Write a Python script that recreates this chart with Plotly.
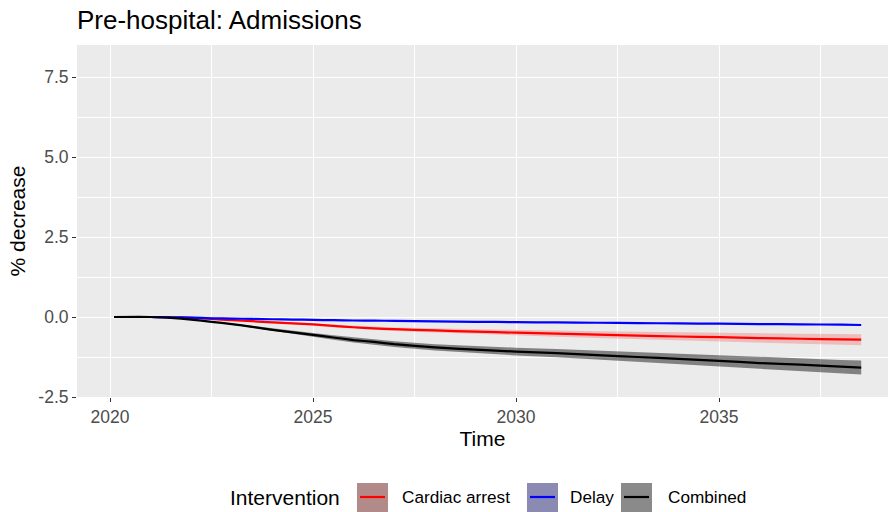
import plotly.graph_objects as go

# Projected % decrease in pre-hospital admissions by intervention
years = [2020.1, 2021, 2021.5, 2022, 2022.5, 2023, 2023.5, 2024, 2024.5, 2025,
         2025.5, 2026, 2026.5, 2027, 2028, 2029, 2030, 2031, 2032, 2033,
         2034, 2035, 2036, 2037, 2038, 2038.5]

cardiac = [0, 0, -0.01, -0.03, -0.06, -0.10, -0.13, -0.17, -0.20, -0.23,
           -0.28, -0.32, -0.355, -0.38, -0.42, -0.46, -0.49, -0.52, -0.55, -0.58,
           -0.61, -0.63, -0.66, -0.68, -0.70, -0.71]
cardiac_ci = [0, 0, 0, 0.005, 0.01, 0.015, 0.02, 0.025, 0.03, 0.035,
              0.04, 0.045, 0.05, 0.055, 0.065, 0.075, 0.085, 0.095, 0.105, 0.115,
              0.125, 0.135, 0.145, 0.155, 0.165, 0.17]

delay = [0, 0, -0.01, -0.02, -0.04, -0.05, -0.06, -0.07, -0.08, -0.09,
         -0.10, -0.11, -0.115, -0.12, -0.135, -0.15, -0.16, -0.17, -0.18, -0.19,
         -0.20, -0.21, -0.22, -0.23, -0.24, -0.25]
delay_ci = [0, 0, 0, 0, 0, 0.002, 0.002, 0.003, 0.003, 0.004,
            0.004, 0.005, 0.005, 0.005, 0.006, 0.006, 0.007, 0.007, 0.008, 0.008,
            0.009, 0.009, 0.01, 0.01, 0.011, 0.011]

combined = [0, 0, -0.03, -0.08, -0.15, -0.22, -0.31, -0.40, -0.48, -0.56,
            -0.64, -0.72, -0.78, -0.85, -0.95, -1.02, -1.08, -1.13, -1.19, -1.25,
            -1.31, -1.37, -1.44, -1.49, -1.55, -1.58]
combined_ci = [0, 0, 0, 0.005, 0.01, 0.02, 0.03, 0.04, 0.05, 0.06,
               0.07, 0.08, 0.085, 0.09, 0.10, 0.11, 0.12, 0.13, 0.14, 0.15,
               0.16, 0.17, 0.18, 0.19, 0.21, 0.22]

series_names = ["Cardiac arrest", "Delay", "Combined"]
series_vals = [cardiac, delay, combined]
series_ci = [cardiac_ci, delay_ci, combined_ci]
line_colors = ["#ff0000", "#0000ff", "#000000"]
band_colors = ["rgba(255,0,0,0.2)", "rgba(0,0,255,0.2)", "rgba(0,0,0,0.45)"]
key_fills = ["#b38a8a", "#8a8ab3", "#8a8a8a"]

y_ticks = [-2.5, 0.0, 2.5, 5.0, 7.5]
y_ticklabels = ["-2.5", "0.0", "2.5", "5.0", "7.5"]
x_ticks = [2020, 2025, 2030, 2035]
x_ticklabels = ["2020", "2025", "2030", "2035"]

FONT = "Liberation Sans, Arial, sans-serif"

fig = go.Figure()

# confidence ribbons
for vals, ci, bc in zip(series_vals, series_ci, band_colors):
    hi = [v + c for v, c in zip(vals, ci)]
    lo = [v - c for v, c in zip(vals, ci)]
    fig.add_trace(go.Scatter(x=years, y=hi, mode="lines", line=dict(width=0),
                             showlegend=False, hoverinfo="skip"))
    fig.add_trace(go.Scatter(x=years, y=lo, mode="lines", line=dict(width=0),
                             fill="tonexty", fillcolor=bc,
                             showlegend=False, hoverinfo="skip"))

# central estimates
for name, vals, lc in zip(series_names, series_vals, line_colors):
    fig.add_trace(go.Scatter(x=years, y=vals, mode="lines", name=name,
                             line=dict(color=lc, width=2.2, shape="spline", smoothing=0.5),
                             showlegend=False))

# panel geometry (px) used for the hand-built legend below
W, H = 890, 512
ML, MR, MT, MB = 77, 2, 45, 115
pw, ph = W - ML - MR, H - MT - MB


def px_x(x):
    return (x - ML) / pw


def px_y(y):
    return (H - MB - y) / ph


legend_y = 497
fig.add_annotation(x=px_x(228), y=px_y(legend_y), xref="paper", yref="paper",
                   text="Intervention", showarrow=False, xanchor="left",
                   yanchor="middle", font=dict(size=21, color="#000000", family=FONT))

key_left = [357, 527, 621]
label_left = [400, 568, 666]
for name, lc, kf, kx, lx in zip(series_names, line_colors, key_fills, key_left, label_left):
    fig.add_shape(type="rect", xref="paper", yref="paper",
                  x0=px_x(kx), x1=px_x(kx + 31), y0=px_y(483), y1=px_y(512),
                  fillcolor=kf, line=dict(width=0), layer="above")
    fig.add_shape(type="line", xref="paper", yref="paper",
                  x0=px_x(kx + 3), x1=px_x(kx + 28), y0=px_y(legend_y), y1=px_y(legend_y),
                  line=dict(color=lc, width=2.2), layer="above")
    fig.add_annotation(x=px_x(lx), y=px_y(legend_y), xref="paper", yref="paper",
                       text=name, showarrow=False, xanchor="left", yanchor="middle",
                       font=dict(size=17.2, color="#000000", family=FONT))

fig.update_layout(
    width=W, height=H,
    margin=dict(l=ML, r=MR, t=MT, b=MB, autoexpand=False),
    paper_bgcolor="white",
    plot_bgcolor="#ebebeb",
    font=dict(family=FONT),
    showlegend=False,
    title=dict(text="Pre-hospital: Admissions", x=ML / W,
               xref="container", xanchor="left", y=1 - 20 / H, yref="container",
               yanchor="middle", font=dict(size=26, color="#000000", family=FONT)),
)

fig.update_xaxes(
    range=[2019.187, 2039.16],
    tickvals=x_ticks, ticktext=x_ticklabels,
    ticks="outside", ticklen=4, tickwidth=1.1, tickcolor="#333333",
    tickfont=dict(size=17.5, color="#4d4d4d", family=FONT),
    showgrid=True, gridcolor="white", gridwidth=1.4,
    minor=dict(dtick=5, tick0=2022.5, showgrid=True, gridcolor="white",
               gridwidth=0.6, ticks=""),
    zeroline=False, showline=False,
    title=dict(text="Time", standoff=4,
               font=dict(size=21, color="#000000", family=FONT)),
)

fig.update_yaxes(
    range=[-2.5, 8.5],
    tickvals=y_ticks, ticktext=y_ticklabels,
    ticks="outside", ticklen=4, tickwidth=1.1, tickcolor="#333333",
    tickfont=dict(size=17.5, color="#4d4d4d", family=FONT),
    showgrid=True, gridcolor="white", gridwidth=1.4,
    minor=dict(dtick=2.5, tick0=-1.25, showgrid=True, gridcolor="white",
               gridwidth=0.6, ticks=""),
    zeroline=False, showline=False,
    title=dict(text="% decrease", standoff=6,
               font=dict(size=21, color="#000000", family=FONT)),
)

fig.write_html("out.html")
